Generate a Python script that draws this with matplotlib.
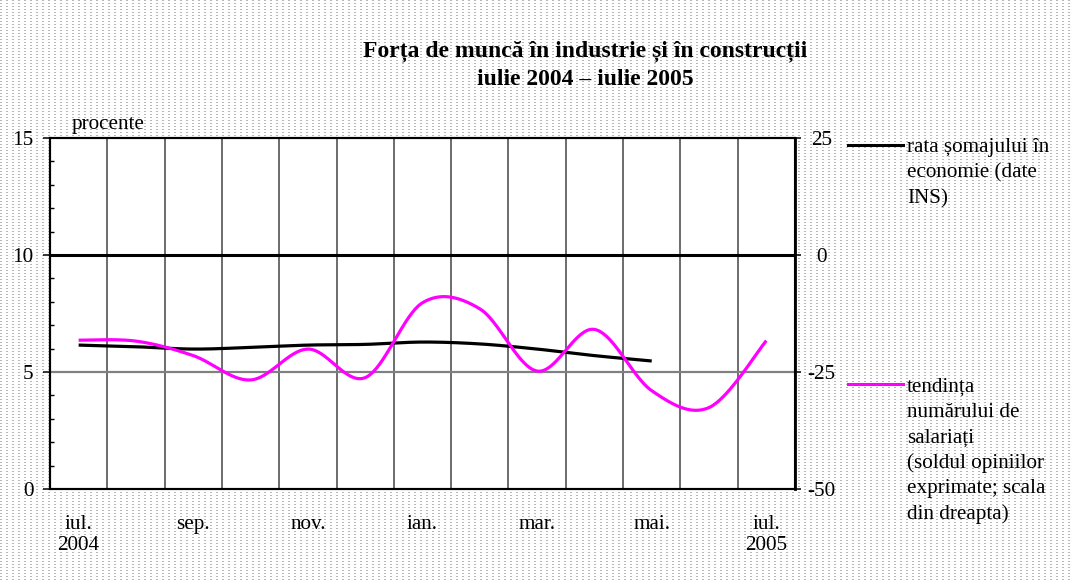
import numpy as np
import matplotlib
matplotlib.use("Agg")
import matplotlib.pyplot as plt
from matplotlib.lines import Line2D

# ---------------- data ----------------
months = ["iul.", "aug.", "sep.", "oct.", "nov.", "dec.", "ian.", "feb.",
          "mar.", "apr.", "mai.", "iun.", "iul."]
tick_labels = ["iul.\n2004", "sep.", "nov.", "ian.", "mar.", "mai.", "iul.\n2005"]
tick_months_idx = [0, 2, 4, 6, 8, 10, 12]
somaj = [6.15, 6.08, 5.98, 6.05, 6.15, 6.18, 6.28, 6.2, 5.98, 5.7, 5.47]      # left axis
salariati = [-18.2, -18.4, -21.5, -26.7, -20.1, -26.2, -10.2, -11.5, -24.8,
             -15.9, -29.0, -32.6, -18.3]                                     # right axis
left_ticks = [0, 5, 10, 15]
right_ticks = [-50, -25, 0, 25]

W, H = 1074, 581
FONT = "Liberation Serif"
plt.rcParams['font.family'] = [FONT, 'DejaVu Serif']


def smooth(xs, ys, n=40):
    P = np.column_stack([xs, ys]).astype(float)
    out = []
    for i in range(len(P) - 1):
        p0 = P[i - 1] if i > 0 else P[i]
        p1 = P[i]
        p2 = P[i + 1]
        p3 = P[i + 2] if i + 2 < len(P) else P[i + 1]
        c1 = p1 + (p2 - p0) / 6.0
        c2 = p2 - (p3 - p1) / 6.0
        t = np.linspace(0, 1, n)[:, None]
        seg = ((1 - t) ** 3) * p1 + 3 * ((1 - t) ** 2) * t * c1 + 3 * (1 - t) * t ** 2 * c2 + t ** 3 * p2
        out.append(seg if i == 0 else seg[1:])
    s = np.vstack(out)
    return s[:, 0], s[:, 1]


fig = plt.figure(figsize=(W / 100, H / 100), dpi=100)
fig.patch.set_facecolor("white")

# dotted background
yy, xx = np.mgrid[0:H, 0:W]
bg = np.ones((H, W, 3))
mask = (yy % 3 == 0) & (xx % 6 < 2)
bg[mask] = 0.72
fig.figimage(bg, xo=0, yo=0, origin='upper', zorder=0)


def fx(px):
    return px / W


def fy(py):
    return 1 - py / H


L, R, T, B = 50, 795, 138, 489
ax = fig.add_axes([fx(L), fy(B), (R - L) / W, (B - T) / H])
ax.set_facecolor("white")
ax.set_zorder(1)
ax2 = ax.twinx()

n = len(months)
ax.set_xlim(0, n)
ax.set_ylim(0, 15)
ax2.set_ylim(-50, 25)

# vertical grid lines at category boundaries
for k in range(1, n):
    ax.axvline(k, color="#444444", lw=1.1, zorder=1)
ax.axhline(5, color="#808080", lw=1.6, zorder=1)
ax2.axhline(0, color="black", lw=2.2, zorder=1)

x_s = np.arange(len(somaj)) + 0.5
sx, sy = smooth(x_s, somaj)
ax.plot(sx, sy, color="black", lw=2.3, zorder=3, solid_capstyle='butt')

x_m = np.arange(len(salariati)) + 0.5
mx, my = smooth(x_m, salariati)
ax2.plot(mx, my, color="#ff00ff", lw=2.3, zorder=3, solid_capstyle='butt')

# axes styling
for a in (ax, ax2):
    for sp in a.spines.values():
        sp.set_linewidth(1.5)
        sp.set_color("black")
ax2.spines['right'].set_linewidth(2.0)

ax.set_xticks([i + 0.5 for i in tick_months_idx])
ax.set_xticklabels(tick_labels, fontsize=15.2, fontfamily=FONT, linespacing=1.2)
ax.tick_params(axis='x', length=0, pad=18.5)

ax.set_yticks(left_ticks)
ax.set_yticklabels([str(v) for v in left_ticks], fontsize=15.2, fontfamily=FONT)
ax.set_yticks(np.arange(0, 16, 1), minor=True)
ax.tick_params(axis='y', which='major', direction='out', length=5, width=1.1, pad=7)
ax.tick_params(axis='y', which='minor', direction='in', length=3, width=1.0)

ax2.set_yticks(right_ticks)
ax2.set_yticklabels([str(v) for v in right_ticks], fontsize=15.2, fontfamily=FONT)
ax2.tick_params(axis='y', which='major', direction='out', length=4, width=1.1, pad=15)
for lbl in ax2.get_yticklabels():
    lbl.set_horizontalalignment('center')

# title
fig.text(fx(585), fy(56), "Forța de muncă în industrie și în construcții",
         ha='center', va='baseline', fontsize=17, fontweight='bold', fontfamily=FONT)
fig.text(fx(585), fy(85), "iulie 2004 – iulie 2005",
         ha='center', va='baseline', fontsize=17, fontweight='bold', fontfamily=FONT)

fig.text(fx(72), fy(129), "procente", ha='left', va='baseline', fontsize=15.2, fontfamily=FONT)

# legend
fig.add_artist(Line2D([fx(848), fx(903)], [fy(145), fy(145)], color="black", lw=2.2))
leg1 = ["rata șomajului în", "economie (date", "INS)"]
for i, s in enumerate(leg1):
    fig.text(fx(907), fy(152 + 25.5 * i), s, ha='left', va='baseline', fontsize=15.2, fontfamily=FONT)

fig.add_artist(Line2D([fx(848), fx(903)], [fy(384), fy(384)], color="#ff00ff", lw=2.2))
leg2 = ["tendința", "numărului de", "salariați", "(soldul opiniilor",
        "exprimate; scala", "din dreapta)"]
for i, s in enumerate(leg2):
    fig.text(fx(907), fy(392 + 25.3 * i), s, ha='left', va='baseline', fontsize=15.2, fontfamily=FONT)

fig.savefig("out.png", dpi=100, facecolor="white")
